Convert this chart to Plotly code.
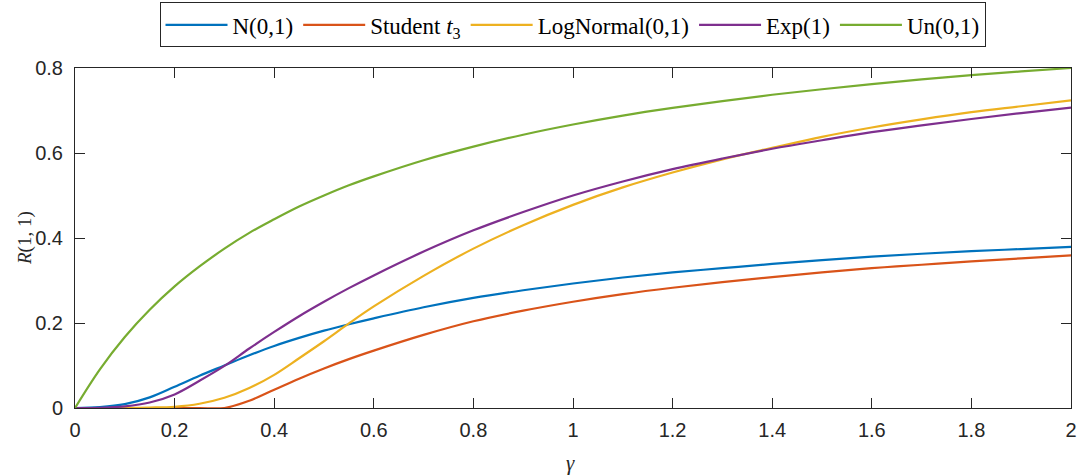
import plotly.graph_objects as go

gamma = [0, 0.05, 0.1, 0.15, 0.2, 0.25, 0.3, 0.35, 0.4, 0.45, 0.5, 0.55, 0.6,
         0.7, 0.8, 0.9, 1.0, 1.1, 1.2, 1.3, 1.4, 1.5, 1.6, 1.7, 1.8, 1.9, 2.0]

normal = [0, 0.002, 0.009, 0.025, 0.050, 0.076, 0.100, 0.124, 0.146, 0.165, 0.182, 0.197, 0.211,
          0.237, 0.259, 0.277, 0.293, 0.307, 0.319, 0.329, 0.339, 0.348, 0.356, 0.363, 0.369, 0.374, 0.379]
student = [0, 0, 0, 0, 0, 0, 0, 0.017, 0.043, 0.069, 0.093, 0.115, 0.135,
           0.172, 0.204, 0.229, 0.250, 0.268, 0.283, 0.296, 0.308, 0.319, 0.329, 0.337, 0.345, 0.352, 0.359]
lognormal = [0, 0, 0.0002, 0.001, 0.003, 0.010, 0.024, 0.047, 0.078, 0.117, 0.157, 0.199, 0.239,
             0.311, 0.375, 0.430, 0.478, 0.519, 0.554, 0.585, 0.612, 0.638, 0.660, 0.679, 0.696, 0.710, 0.724]
exponential = [0, 0.0005, 0.004, 0.013, 0.032, 0.064, 0.099, 0.140, 0.179, 0.216, 0.250, 0.282, 0.312,
               0.368, 0.418, 0.461, 0.500, 0.533, 0.562, 0.587, 0.610, 0.630, 0.649, 0.665, 0.680, 0.694, 0.707]
uniform = [0, 0.091, 0.167, 0.231, 0.286, 0.333, 0.375, 0.412, 0.444, 0.474, 0.500, 0.524, 0.545,
           0.583, 0.615, 0.643, 0.667, 0.688, 0.706, 0.722, 0.737, 0.750, 0.762, 0.773, 0.783, 0.792, 0.800]

series = [
    ("N(0,1)", normal, "#0072BD"),
    ("Student <i>t</i><sub>3</sub>", student, "#D95319"),
    ("LogNormal(0,1)", lognormal, "#EDB120"),
    ("Exp(1)", exponential, "#7E2F8E"),
    ("Un(0,1)", uniform, "#77AC30"),
]

x_ticks = [0, 0.2, 0.4, 0.6, 0.8, 1.0, 1.2, 1.4, 1.6, 1.8, 2.0]
x_tick_labels = ["0", "0.2", "0.4", "0.6", "0.8", "1", "1.2", "1.4", "1.6", "1.8", "2"]
y_ticks = [0, 0.2, 0.4, 0.6, 0.8]
y_tick_labels = ["0", "0.2", "0.4", "0.6", "0.8"]

fig = go.Figure()
for name, vals, color in series:
    fig.add_trace(go.Scatter(x=gamma, y=vals, mode="lines", name=name,
                             line=dict(color=color, width=2.2, shape="spline", smoothing=1.0)))

axis_common = dict(showline=True, linecolor="#262626", linewidth=1, mirror="ticks",
                   ticks="inside", ticklen=10, tickcolor="#262626", showgrid=False,
                   zeroline=False, automargin=False,
                   tickfont=dict(family="Liberation Sans, Arial", size=20, color="#262626"))

serif = "Liberation Serif, DejaVu Serif"

fig.update_layout(
    width=1085, height=475,
    margin=dict(l=75, r=14, t=68, b=67),
    paper_bgcolor="white", plot_bgcolor="white",
    showlegend=True,
    legend=dict(orientation="h", x=0.4995, xanchor="center",
                yref="container", y=0.995, yanchor="top",
                bordercolor="#262626", borderwidth=1, bgcolor="white",
                font=dict(family=serif, size=23, color="#000000"),
                itemwidth=62, tracegroupgap=0),
    xaxis=dict(range=[0, 2], tickvals=x_ticks, ticktext=x_tick_labels,
               ticklabelstandoff=4, **axis_common),
    yaxis=dict(range=[0, 0.8], tickvals=y_ticks, ticktext=y_tick_labels,
               ticklabelstandoff=7, **axis_common),
    annotations=[
        dict(text="<i>γ</i>", xref="paper", yref="paper", x=0.4975, y=0, yshift=-55,
             xanchor="center", yanchor="middle", showarrow=False,
             font=dict(family=serif, size=21, color="#262626")),
        dict(text="<i>R</i>(1, 1)", xref="paper", yref="paper", x=0, xshift=-50, y=0.5,
             xanchor="center", yanchor="middle", textangle=-90, showarrow=False,
             font=dict(family=serif, size=19, color="#262626")),
    ],
)

fig.write_html("out.html", config={"displayModeBar": False},
               post_script="document.body.style.margin='0';")
